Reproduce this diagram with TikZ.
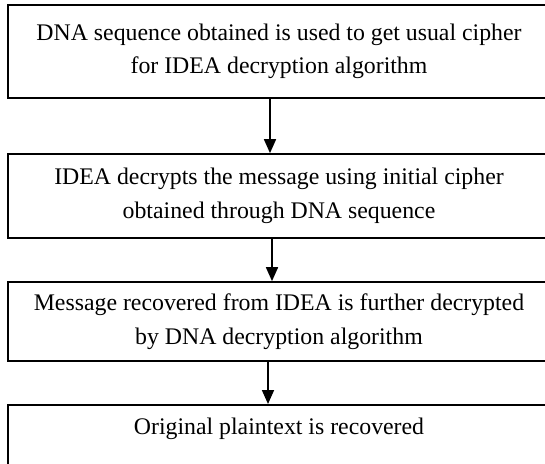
\documentclass[tikz,border=0pt]{standalone}
\usepackage{fontspec}
\setmainfont{Liberation Serif}
\usetikzlibrary{arrows.meta}
\begin{document}
\begin{tikzpicture}[x=1pt,y=1pt,
  box/.style={draw=black,line width=1.7pt,minimum width=542pt,inner sep=0pt,
    align=center,font=\fontsize{23.8}{33.5}\selectfont},
  arr/.style={line width=1.7pt,-{Triangle[length=14pt,width=12pt]}}]
\clip (0,0) rectangle (545,-463);
\node[box,minimum height=93pt] (b1) at (279,-51.5)
  {DNA sequence obtained is used to get usual cipher\\for IDEA decryption algorithm};
\node[box,minimum height=84pt] (b2) at (279,-196)
  {IDEA decrypts the message using initial cipher\\obtained through DNA sequence};
\node[box,minimum height=79pt] (b3) at (279,-321.5)
  {Message recovered from IDEA is further decrypted\\by DNA decryption algorithm};
\node[box,anchor=north,text height=30pt,text depth=70pt] (b4) at (279,-404)
  {Original plaintext is recovered};
\draw[arr] ([xshift=-9pt]b1.south) -- ([xshift=-9pt]b2.north);
\draw[arr] ([xshift=-7pt]b2.south) -- ([xshift=-7pt]b3.north);
\draw[arr] ([xshift=-11pt]b3.south) -- ([xshift=-11pt]b4.north);
\end{tikzpicture}
\end{document}
